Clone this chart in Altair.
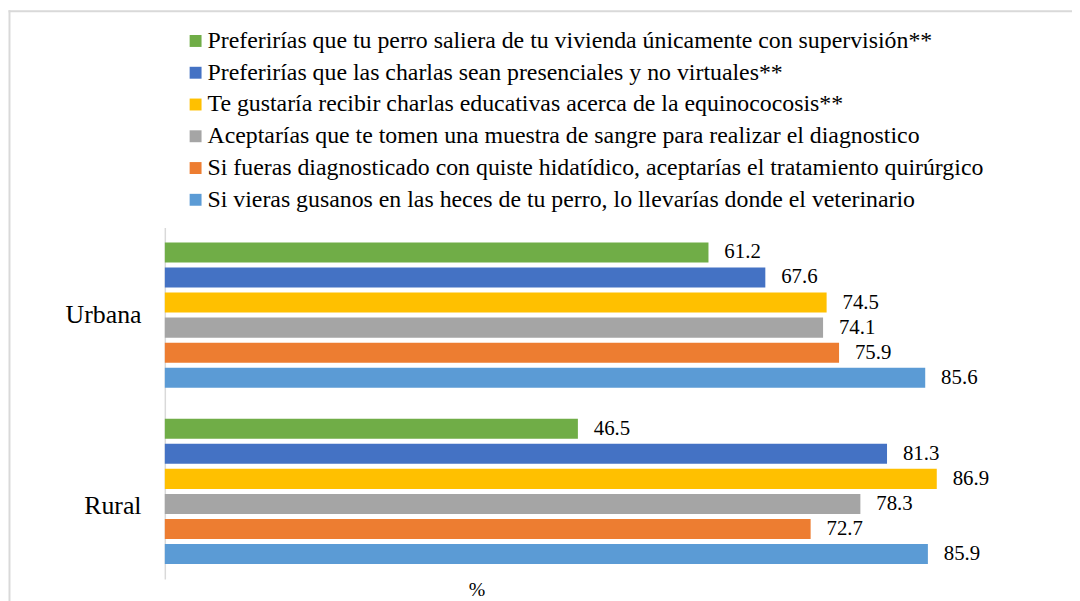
import altair as alt
import pandas as pd

groups = ["Urbana", "Rural"]
series = [
    "Preferirías que tu perro saliera de tu vivienda únicamente con supervisión**",
    "Preferirías que las charlas sean presenciales y no virtuales**",
    "Te gustaría recibir charlas educativas acerca de la equinococosis**",
    "Aceptarías que te tomen una muestra de sangre para realizar el diagnostico",
    "Si fueras diagnosticado con quiste hidatídico, aceptarías el tratamiento quirúrgico",
    "Si vieras gusanos en las heces de tu perro, lo llevarías donde el veterinario",
]
colors = ["#70AD47", "#4472C4", "#FFC000", "#A5A5A5", "#ED7D31", "#5B9BD5"]
urbana_values = [61.2, 67.6, 74.5, 74.1, 75.9, 85.6]
rural_values = [46.5, 81.3, 86.9, 78.3, 72.7, 85.9]

rows = []
for g, vals in zip(groups, [urbana_values, rural_values]):
    for s, v in zip(series, vals):
        rows.append({"group": g, "series": s, "value": v})
df = pd.DataFrame(rows)

FONT = "Liberation Serif"
PLOT_W, PLOT_H = 895, 354
PAD_L, PAD_T = 158, 219

base = alt.Chart(df)

y_enc = alt.Y("group:N", sort=groups, title=None,
              scale=alt.Scale(paddingInner=0.147, paddingOuter=0.07),
              axis=alt.Axis(domainColor="#d9d9d9", domainWidth=1.5, ticks=False,
                            labelPadding=24, labelFont=FONT, labelFontSize=26,
                            labelColor="black", labelAngle=0,
                            labelOffset={"condition": {"test": "datum.value == 'Rural'", "value": 15}, "value": 0}))
yoff = alt.YOffset("series:N", sort=series,
                   scale=alt.Scale(paddingInner=0.2, paddingOuter=0.1))

bars = base.mark_bar().encode(
    x=alt.X("value:Q", scale=alt.Scale(domain=[0, 100], nice=False),
            axis=alt.Axis(title="%", labels=False, ticks=False, domain=False, grid=False,
                          titleFont=FONT, titleFontSize=20, titleFontWeight="normal",
                          titleColor="black", titleX=314, titleY=11, titleBaseline="middle")),
    y=y_enc,
    yOffset=yoff,
    color=alt.Color("series:N", sort=series,
                    scale=alt.Scale(domain=series, range=colors),
                    legend=alt.Legend(title=None, orient="none", legendX=19, legendY=-200,
                                      symbolType="square", symbolSize=144, symbolStrokeWidth=0,
                                      labelFont=FONT, labelFontSize=24, labelColor="black",
                                      labelOffset=0, rowPadding=8, padding=0, labelLimit=1000)),
)

labels = base.mark_text(align="left", baseline="middle", dx=16, font=FONT,
                        fontSize=21, color="black").encode(
    x="value:Q",
    y=alt.Y("group:N", sort=groups),
    yOffset=yoff,
    text=alt.Text("value:Q", format=".1f"),
)

frame_data = alt.Data(values=[{"k": 1}])
left_border = alt.Chart(frame_data).mark_rule(color="#d9d9d9", strokeWidth=2).encode(
    x=alt.value(-156.5), y=alt.value(-219), y2=alt.value(380))
top_border = alt.Chart(frame_data).mark_rule(color="#d9d9d9", strokeWidth=2).encode(
    y=alt.value(-218), x=alt.value(-157.5), x2=alt.value(940))

chart = alt.layer(bars, labels, left_border, top_border).properties(
    width=PLOT_W, height=PLOT_H,
    autosize=alt.AutoSizeParams(type="none"),
    padding={"left": PAD_L, "top": PAD_T, "right": 1072 - PAD_L - PLOT_W,
             "bottom": 593 - PAD_T - PLOT_H},
).configure_view(stroke=None)

chart.save("out.html", embed_options={"renderer": "svg", "actions": False})
